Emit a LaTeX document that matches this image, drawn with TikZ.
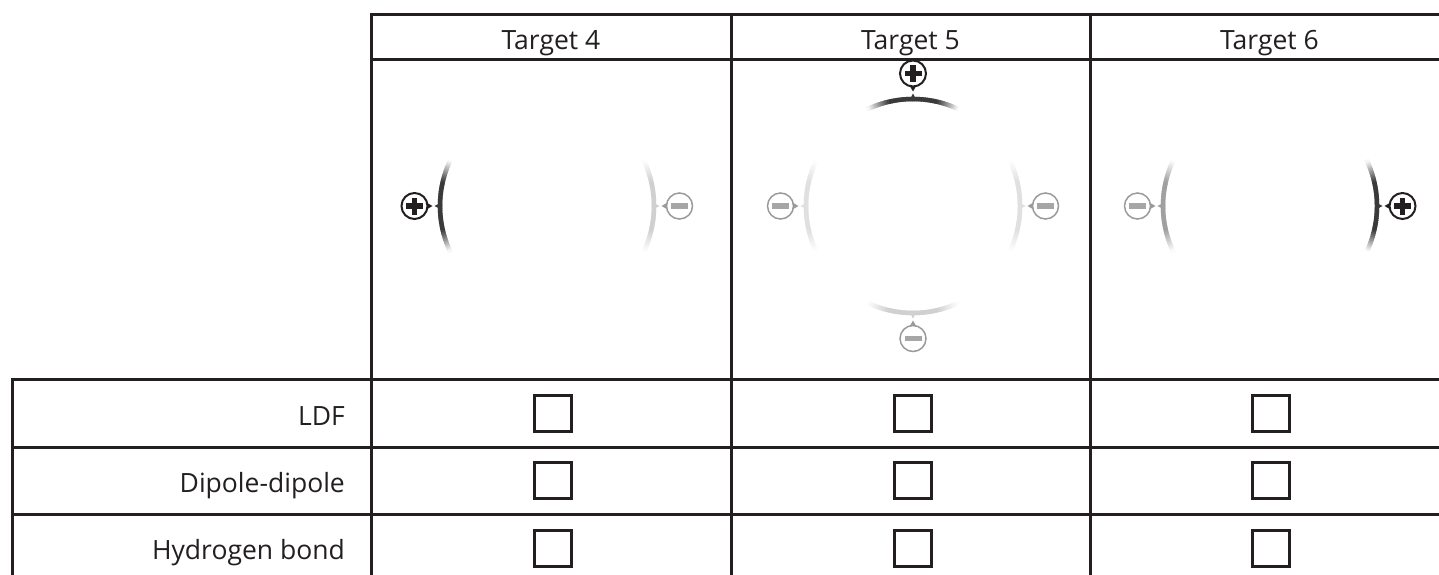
\documentclass[tikz,border=0pt]{standalone}
\usepackage{fontspec}
\setmainfont{Open Sans}
\definecolor{ink}{HTML}{231F20}
\definecolor{darkarc}{HTML}{3A3A3A}
\definecolor{midarc}{HTML}{A0A0A0}
\definecolor{lightarc}{HTML}{D0D0D0}
\definecolor{paleArc}{HTML}{E0E0E0}
\definecolor{mgray}{HTML}{9A9A9A}
\definecolor{mbar}{HTML}{A6A6A6}
\tikzset{
  grid/.style={draw=ink, line width=3pt, line cap=rect},
  cb/.style={draw=ink, line width=3pt, minimum width=37pt, minimum height=36pt, inner sep=0pt},
  txt/.style={font=\fontsize{26.5}{30}\selectfont, text=ink, inner sep=0pt},
  pluschg/.style={circle, draw=ink, line width=2pt, minimum size=26pt, inner sep=0pt, fill=white,
    path picture={
      \fill[ink] ([xshift=-8.5pt,yshift=-2.6pt]path picture bounding box.center) rectangle ([xshift=8.5pt,yshift=2.6pt]path picture bounding box.center);
      \fill[ink] ([xshift=-2.6pt,yshift=-8.5pt]path picture bounding box.center) rectangle ([xshift=2.6pt,yshift=8.5pt]path picture bounding box.center);}},
  minuschg/.style={circle, draw=mgray, line width=1.5pt, minimum size=26pt, inner sep=0pt, fill=white,
    path picture={
      \fill[mbar] ([xshift=-8.5pt,yshift=-2.8pt]path picture bounding box.center) rectangle ([xshift=8.5pt,yshift=2.8pt]path picture bounding box.center);}}
}
\newcommand\fadearc[3]{%
  \foreach \i in {-25,...,24}{%
    \pgfmathtruncatemacro\pc{100*min(1,(25-abs(\i+0.5))/12)}%
    \draw[line width=4.5pt, draw=#2!\pc!white] (#1+\i:#3) arc[start angle=#1+\i, end angle=#1+\i+1.6, radius=#3];
  }}
% #1 node name, #2 angle, #3 arc colour, #4 charge style, #5 charge colour
\newcommand\dipole[5]{%
  \fadearc{#2}{#3}{107}
  \fill[#3] (#2:112.5) -- (#2+1.7:106.5) -- (#2-1.7:106.5) -- cycle;
  \node[#4] (#1) at (#2:132.5) {};
  \fill[#5] (#2:114.5) -- (#2+1.5:120) -- (#2-1.5:120) -- cycle;
}
\begin{document}
\begin{tikzpicture}[x=1pt,y=-1pt]
\useasboundingbox (0,0) rectangle (1439,574);
\clip (0,0) rectangle (1439,574);
\fill[white] (0,0) rectangle (1439,574);
% table rules
\draw[grid] (371,14) -- (1470,14);
\draw[grid] (371,59) -- (1470,59);
\draw[grid] (12,379) -- (1470,379);
\draw[grid] (12,447) -- (1470,447);
\draw[grid] (12,514) -- (1470,514);
\draw[grid] (12,379) -- (12,600);
\draw[grid] (371,14) -- (371,600);
\draw[grid] (731,14) -- (731,600);
\draw[grid] (1090,14) -- (1090,600);
% headers
\node[txt, anchor=base] (h4) at (551,49) {Target 4};
\node[txt, anchor=base] (h5) at (910.5,49) {Target 5};
\node[txt, anchor=base] (h6) at (1269.5,49) {Target 6};
% row labels
\node[txt, anchor=base east] (ldf) at (345,425) {LDF};
\node[txt, anchor=base east] (dd) at (345,492) {Dipole-dipole};
\node[txt, anchor=base east] (hb) at (345,559) {Hydrogen bond};
% check boxes
\foreach \c/\x in {a/553,b/913,c/1271}{
  \node[cb] (ldf\c) at (\x,413) {};
  \node[cb] (dd\c) at (\x,480.5) {};
  \node[cb] (hb\c) at (\x,548) {};
}
% Target 4
\begin{scope}[shift={(547,206)}, y=1pt]
  \dipole{t4p}{180}{darkarc}{pluschg}{ink}
  \dipole{t4m}{0}{lightarc}{minuschg}{mgray}
\end{scope}
% Target 5
\begin{scope}[shift={(913,206)}, y=1pt]
  \dipole{t5p}{90}{darkarc}{pluschg}{ink}
  \dipole{t5l}{180}{paleArc}{minuschg}{mgray}
  \dipole{t5r}{0}{paleArc}{minuschg}{mgray}
  \dipole{t5b}{270}{lightarc}{minuschg}{mgray}
\end{scope}
% Target 6
\begin{scope}[shift={(1270,206)}, y=1pt]
  \dipole{t6m}{180}{midarc}{minuschg}{mgray}
  \dipole{t6p}{0}{darkarc}{pluschg}{ink}
\end{scope}
\end{tikzpicture}
\end{document}
